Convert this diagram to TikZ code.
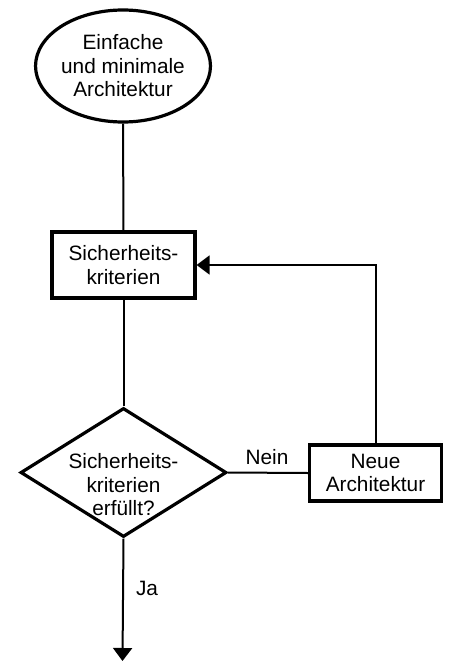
\documentclass[tikz,border=0pt]{standalone}
\usepackage{fontspec}
\setmainfont{Liberation Sans}
\usetikzlibrary{shapes.geometric,arrows.meta}
\begin{document}
\begin{tikzpicture}[x=1pt,y=1pt,
  every node/.style={font=\fontsize{20.8}{23.5}\selectfont, align=center, inner sep=0pt},
  startnode/.style={ellipse, draw, line width=3.2pt, minimum width=174pt, minimum height=112pt},
  procbox/.style={rectangle, draw, line width=3.2pt},
  decision/.style={diamond, draw, line width=3.2pt, minimum width=206pt, minimum height=129pt},
  conn/.style={line width=2pt},
  tip/.style={-{Triangle[width=19pt,length=13pt]}}
]
\useasboundingbox (0,0) rectangle (449,-661);

\node[startnode] (start) at (123,-66) {Einfache\\und minimale\\Architektur};
\node[procbox, minimum width=143pt, minimum height=66pt] (crit) at (123.5,-265) {Sicherheits-\\kriterien};
\node[decision] (check) at (123.5,-472.5) {};
\node (checktext) at (123.5,-485) {Sicherheits-\\kriterien\\erfüllt?};
\node[procbox, minimum width=132pt, minimum height=56pt] (neu) at (375.5,-473) {Neue\\Architektur};
\coordinate (out) at (122.5,-661);

\draw[conn] (start.south) -- (crit.north);
\draw[conn] (crit.south) -- (check.north);
\draw[conn, tip] (check.south) -- (out);
\draw[conn] (check.east) -- (neu.west);
\draw[conn, tip] (neu.north) |- (crit.east);

\node (ja) at (147,-588) {Ja};
\node (nein) at (267,-457) {Nein};
\end{tikzpicture}
\end{document}
